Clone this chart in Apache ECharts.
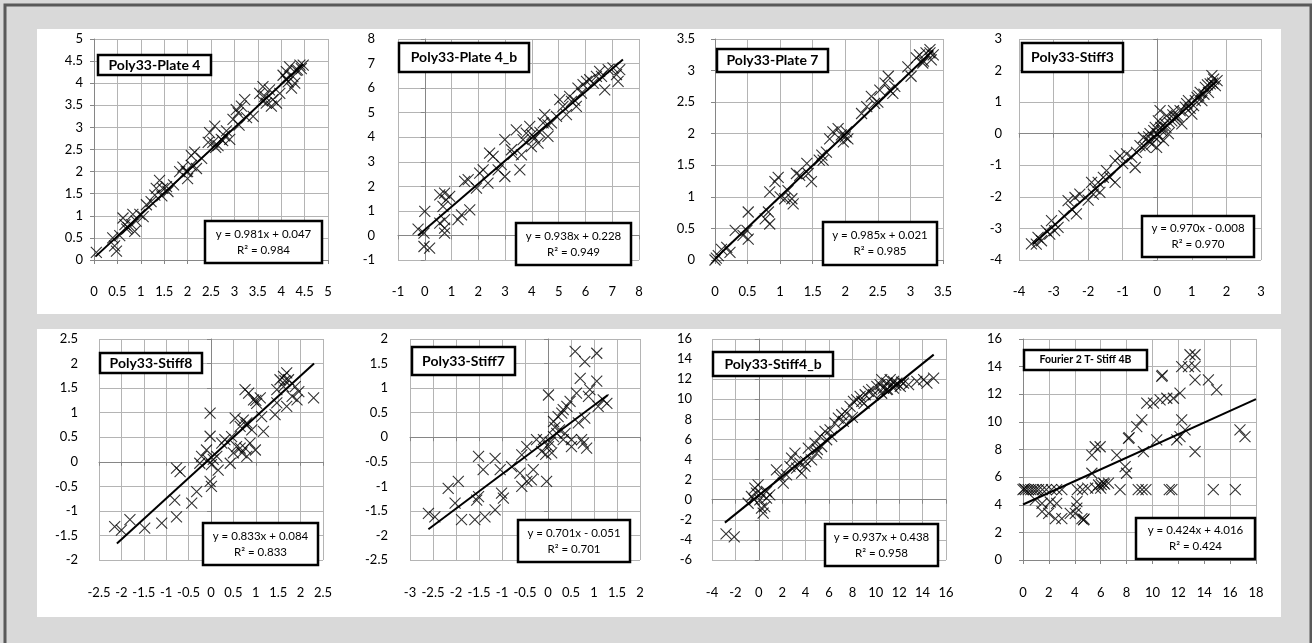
<!DOCTYPE html>
<html>
<head>
<meta charset="utf-8">
<title>Poly33 fits</title>
<script src="https://cdn.jsdelivr.net/npm/echarts@6/dist/echarts.min.js"></script>
<style>
html, body { margin: 0; padding: 0; background: #d9d9d9; }
#main { width: 1312px; height: 643px; }
</style>
</head>
<body>
<div id="main"></div>
<script>
// panel names, in reading order
var names = ['Poly33-Plate 4', 'Poly33-Plate 4_b', 'Poly33-Plate 7', 'Poly33-Stiff3',
             'Poly33-Stiff8', 'Poly33-Stiff7', 'Poly33-Stiff4_b', 'Fourier 2 T- Stiff 4B'];

// axis ticks: [min, max, step]
var xTicks = [[0, 5, 0.5], [-1, 8, 1], [0, 3.5, 0.5], [-4, 3, 1],
              [-2.5, 2.5, 0.5], [-3, 2, 0.5], [-4, 16, 2], [0, 18, 2]];
var yTicks = [[0, 5, 0.5], [-1, 8, 1], [0, 3.5, 0.5], [-4, 3, 1],
              [-2, 2.5, 0.5], [-2.5, 2, 0.5], [-6, 16, 2], [0, 16, 2]];

// trend lines (as printed on the chart) and their x extent
var slopes = [0.981, 0.938, 0.985, 0.970, 0.833, 0.701, 0.937, 0.424];
var intercepts = [0.047, 0.228, 0.021, -0.008, 0.084, -0.051, 0.438, 4.016];
var r2 = [0.984, 0.949, 0.985, 0.970, 0.833, 0.701, 0.958, 0.424];
var trendFrom = [0.03, -0.25, 0, -3.6, -2.1, -2.6, -2.9, 0];
var trendTo = [4.47, 7.4, 3.35, 1.72, 2.3, 1.3, 14.95, 18];

// points [x, y]
var plate4 = [[0.05,0.17],[0.4,0.5],[0.44,0.32],[0.48,0.2],[0.55,0.55],[0.62,0.95],[0.66,0.8],[0.73,0.73],[0.8,0.8],[0.87,0.65],
  [0.9,0.88],[0.98,1.03],[0.83,1.03],[1.05,0.98],[1.12,1.25],[1.22,1.32],[1.3,1.47],[1.33,1.62],[1.4,1.8],[1.47,1.62],
  [1.55,1.66],[1.58,1.55],[1.7,1.7],[1.83,2.0],[1.9,2.1],[1.97,2.0],[2.0,1.84],[2.08,2.36],[2.15,2.44],[2.19,2.07],
  [2.08,2.14],[2.3,2.3],[2.44,2.66],[2.47,2.88],[2.54,2.66],[2.58,3.03],[2.6,2.55],[2.65,2.59],[2.72,2.73],[2.79,2.81],
  [2.83,2.92],[2.9,2.73],[2.97,3.18],[3.04,3.4],[3.08,3.33],[3.15,3.48],[3.22,3.63],[3.26,3.22],[3.4,3.25],[3.54,3.77],
  [3.6,3.6],[3.61,3.92],[3.65,3.7],[3.75,3.85],[3.68,3.55],[3.82,3.63],[3.9,3.55],[3.97,3.77],[3.79,3.48],[4.04,4.18],
  [4.1,4.1],[4.11,4.26],[4.15,4.03],[4.18,4.37],[4.25,4.15],[4.29,4.0],[4.32,4.29],[4.4,4.41],[4.43,4.33],[4.47,4.41],[4.22,3.89],
  [1.45,1.45],[2.0,2.0],[2.75,2.7],[3.1,3.05],[4.35,4.3],[0.7,0.7]];

var plate4b = [[-0.25,0.26],[0,0.98],[-0.03,0.09],[-0.03,-0.45],[0.18,-0.52],[0.74,0.64],[0.74,0.09],[0.74,0.3],[0.56,0.5],
  [0.56,1.65],[0.74,1.72],[0.8,1.45],[0.93,1.59],[0.68,1.18],[1.24,0.64],[1.37,0.84],[1.68,1.04],[1.49,2.2],[1.62,2.27],
  [1.93,1.93],[2.05,2.54],[2.18,2.67],[2.36,2.13],[2.42,3.35],[2.55,3.22],[2.74,2.67],[2.86,2.88],[2.99,3.9],[2.99,2.4],
  [3.24,3.49],[3.42,4.3],[3.55,2.67],[3.61,3.28],[3.67,3.9],[3.79,4.17],[3.92,4.44],[3.98,3.62],[4.11,3.96],[4.23,3.76],
  [4.42,4.58],[4.48,4.92],[4.6,4.03],[4.73,4.58],[4.92,4.85],[5.04,5.53],[5.16,5.26],[5.29,4.92],[5.41,5.66],[5.48,5.46],
  [5.66,5.26],[5.72,6.0],[5.91,6.14],[6.04,6.27],[6.16,6.34],[6.29,6.2],[6.41,6.48],[6.53,6.68],[6.6,6.48],[6.72,5.93],
  [6.85,6.75],[7.03,6.82],[7.16,6.55],[7.28,6.75],[7.22,6.27],[4.3,4.2],[3.3,3.3],[5.6,5.5],[4.0,4.1],[4.6,4.5],[5.85,5.8]];

var plate7 = [[0,0],[0.05,0.07],[0.1,0.17],[0.18,0.2],[0.23,0.12],[0.31,0.47],[0.43,0.39],[0.51,0.76],[0.49,0.47],[0.51,0.33],
  [0.77,0.65],[0.82,0.76],[0.84,0.57],[0.84,1.08],[0.92,1.24],[0.97,1.31],[1.0,1.0],[1.07,0.97],[1.12,1.1],[1.18,0.97],
  [1.2,0.89],[1.25,1.37],[1.3,1.34],[1.41,1.53],[1.48,1.24],[1.43,1.37],[1.64,1.66],[1.66,1.58],[1.71,1.71],[1.76,1.92],
  [1.81,2.03],[1.89,2.08],[1.94,1.98],[2.02,2.03],[2.04,1.92],[1.97,1.87],[2.25,2.32],[2.33,2.43],[2.4,2.59],[2.45,2.48],
  [2.53,2.69],[2.61,2.8],[2.66,2.91],[2.68,2.69],[2.73,2.64],[2.76,2.75],[2.96,3.06],[3.01,2.91],[3.09,3.2],[3.14,3.25],
  [3.19,3.12],[3.24,3.28],[3.3,3.33],[3.32,3.17],[3.35,3.25],[0.02,0.03],[1.6,1.58],[2.0,1.95],[2.5,2.5],[3.3,3.28],[3.2,3.15]];

var stiff3 = [[-3.64,-3.49],[-3.45,-3.28],[-3.35,-3.39],[-3.21,-3.07],[-3.06,-2.75],[-2.97,-3.07],[-2.87,-2.97],[-3.11,-3.18],
  [-2.58,-2.12],[-2.48,-2.39],[-2.38,-2.02],[-2.34,-2.54],[-2.24,-1.91],[-1.9,-1.54],[-1.85,-1.91],[-1.8,-1.75],[-1.71,-1.54],
  [-1.66,-1.86],[-1.56,-1.38],[-1.47,-1.17],[-1.37,-1.38],[-1.22,-1.54],[-1.22,-0.85],[-1.08,-0.7],[-0.89,-0.64],[-0.74,-0.75],
  [-0.64,-1.07],[-0.6,-0.59],[-0.5,-0.38],[-0.4,-0.12],[-0.35,-0.43],[-0.26,-0.22],[-0.21,0.0],[-0.16,-0.33],[-0.06,0.2],
  [-0.06,-0.12],[-0.02,-0.43],[0.03,0.41],[0.08,0.73],[0.13,0.1],[0.18,-0.22],[0.23,0.31],[0.27,0.57],[0.32,0.0],[0.42,0.41],
  [0.47,0.73],[0.56,0.52],[0.66,0.73],[0.71,0.31],[0.81,0.84],[0.9,1.05],[1.0,0.62],[1.05,0.89],[1.15,1.15],[1.24,1.31],
  [1.29,1.05],[1.39,1.47],[1.48,1.31],[1.53,1.58],[1.63,1.73],[1.68,1.52],[1.73,1.68],[1.58,1.84],[0.1,0.2],[0.5,0.45],
  [0.0,0.0],[0.05,-0.1],[0.15,0.25],[0.25,0.2],[0.35,0.35],[0.45,0.6],[0.6,0.55],[0.75,0.7],[0.85,0.95],[0.95,0.8],
  [1.1,1.05],[1.2,1.2],[1.35,1.25],[1.45,1.55],[1.6,1.6],[-0.1,0.1],[-0.25,-0.1],[-1.0,-0.95],[-2.0,-2.1],[-2.7,-2.6],[-3.5,-3.5]];

var stiff8 = [[-2.15,-1.32],[-2.0,-1.39],[-1.81,-1.18],[-1.48,-1.35],[-1.1,-1.25],[-0.77,-1.12],[-0.81,-0.78],[-0.77,-0.13],
  [-0.69,-0.2],[-0.43,-0.84],[-0.32,-0.61],[-0.25,-0.03],[-0.21,0.11],[-0.1,0.24],[-0.06,0.03],[-0.02,0.99],[-0.02,0.52],
  [0.01,-0.06],[-0.02,-0.4],[0.01,-0.5],[0.13,0.11],[0.16,-0.17],[0.24,0.38],[0.31,0.45],[0.43,-0.03],[0.46,0.51],[0.5,0.18],
  [0.54,0.89],[0.57,0.31],[0.65,0.28],[0.69,0.18],[0.65,0.72],[0.72,0.85],[0.8,0.79],[0.76,1.47],[0.84,1.4],[0.87,0.38],
  [0.91,0.65],[0.95,1.26],[1.02,1.19],[0.99,0.24],[1.1,1.3],[1.17,0.62],[1.13,0.92],[1.43,0.96],[1.47,1.47],[1.54,1.67],
  [1.62,1.74],[1.69,1.81],[1.73,1.67],[1.62,1.53],[1.69,1.13],[1.81,1.33],[1.88,1.53],[1.92,1.26],[1.96,1.43],[2.29,1.3],
  [1.47,1.2],[0.8,0.11],[0.76,0.28],[0.78,0.75],[1.0,1.25],[1.65,1.65],[0.05,0.05]];

var stiff7 = [[-2.6,-1.55],[-2.46,-1.62],[-2.17,-1.04],[-1.95,-0.9],[-2.02,-1.34],[-1.88,-1.68],[-1.59,-1.68],[-1.37,-1.62],
  [-1.51,-0.39],[-1.41,-0.66],[-1.51,-1.21],[-1.55,-1.28],[-1.15,-0.43],[-1.04,-0.66],[-1.01,-1.14],[-0.97,-1.24],[-1.15,-1.48],
  [-0.79,-0.6],[-0.57,-0.36],[-0.46,-0.19],[-0.61,-0.73],[-0.57,-1.0],[-0.46,-0.9],[-0.32,-0.66],[-0.36,-0.87],[-0.25,-0.05],
  [-0.14,-0.29],[0.01,0.86],[-0.03,-0.9],[0.01,-0.19],[0.12,0.32],[0.12,0.01],[0.08,-0.32],[0.22,0.42],[0.19,0.08],[0.3,0.49],
  [0.33,-0.05],[0.41,0.63],[0.37,0.08],[0.48,0.73],[0.51,-0.05],[0.59,1.75],[0.62,0.9],[0.66,0.29],[0.7,1.2],[0.73,-0.05],
  [0.8,1.54],[0.8,0.39],[0.84,-0.22],[0.88,0.83],[0.91,0.97],[1.06,1.71],[1.06,1.14],[1.09,0.63],[1.2,0.76],[1.28,0.69],
  [0.77,-0.12],[0.51,-0.19],[-0.1,-0.05],[0.33,0.56],[0.15,0.2],[0.05,-0.1],[-0.05,-0.35],[0.25,0.15]];

var stiff4b = [[-2.8,-3.4],[-2.1,-3.7],[-0.91,-0.35],[-0.63,0.32],[-0.34,1.15],[-0.2,0.65],[-0.06,1.48],[0.09,-0.01],[0.23,-0.84],
  [0.51,-0.68],[0.66,0.15],[0.66,0.82],[0.94,0.49],[0.37,-1.34],[1.51,2.98],[1.8,2.31],[2.09,1.65],[2.37,2.48],[2.66,3.31],
  [2.8,4.14],[3.09,4.64],[3.23,3.14],[3.51,3.64],[3.66,2.64],[3.94,3.31],[4.23,5.14],[4.51,3.97],[4.8,5.63],[4.94,4.64],
  [5.23,6.3],[5.37,5.3],[5.66,6.8],[5.8,5.97],[6.09,6.96],[6.23,6.3],[6.51,7.63],[6.8,8.13],[7.09,8.46],[7.23,7.79],[7.51,8.62],
  [7.8,9.29],[8.09,9.79],[8.37,9.95],[8.66,10.29],[8.8,9.79],[9.09,10.45],[9.37,10.78],[9.66,10.95],[9.8,10.45],[10.09,11.28],
  [10.37,11.45],[10.51,11.95],[10.66,11.12],[10.94,11.61],[11.23,11.95],[11.37,11.45],[11.51,11.78],[11.8,11.61],[12.09,11.28],
  [12.37,11.61],[12.8,11.45],[13.51,11.78],[14.09,11.95],[14.37,11.61],[14.94,12.11],[11.51,11.12],[10.94,10.95],
  [10.5,10.6],[11.0,11.0],[11.7,11.4],[12.2,11.7],[9.0,9.6],[8.0,8.2],[4.0,3.8],[5.0,5.0],[0.2,0.6],[-0.4,0.0]];

var fourier = [[0,5.1],[0.2,5.1],[0.4,5.1],[0.6,5.1],[0.8,5.1],[1.0,5.1],[1.2,5.1],[1.5,5.1],[1.8,5.1],[2.2,5.1],[2.6,5.1],
  [3.0,5.1],[4.2,5.1],[4.6,5.1],[5.0,5.2],[5.6,5.2],[6.0,5.2],[7.5,5.1],[8.9,5.1],[9.2,5.1],[9.5,5.1],[11.3,5.1],[11.5,5.1],
  [14.7,5.1],[16.4,5.1],[0.95,4.35],[1.47,4.1],[1.47,3.5],[1.98,3.38],[2.1,4.2],[2.5,3.0],[2.6,4.1],[3.0,3.0],[3.65,3.38],
  [4.04,3.38],[4.16,3.75],[4.16,4.23],[4.55,3.0],[4.68,2.9],[5.32,6.28],[5.32,7.6],[5.58,8.2],[5.96,8.2],[5.84,5.43],
  [6.22,5.56],[6.6,5.56],[7.25,7.6],[7.89,6.76],[8.0,6.28],[8.15,8.8],[8.79,9.66],[9.18,10.14],[9.3,7.85],[9.56,11.35],
  [10.08,11.35],[10.33,8.7],[10.72,13.29],[10.59,11.59],[11.11,11.71],[11.62,11.71],[12.13,12.08],[12.13,8.94],[12.26,10.14],
  [12.26,14.0],[12.52,9.42],[12.78,14.0],[12.9,14.86],[13.29,14.86],[13.29,13.04],[13.29,7.85],[14.32,13.04],[14.96,12.32],
  [16.76,9.42],[17.15,8.94],[13.29,14.0],[11.88,8.7],[10.76,13.36],[4.72,2.96],[8.2,8.86],[6.05,5.46],[6.3,5.5],[0.1,5.15]];

var panelData = [plate4, plate4b, plate7, stiff3, stiff8, stiff7, stiff4b, fourier];

// layout (pixels): plot areas, y-label gaps, label boxes
var plots = [[94, 39, 234, 221], [398, 39, 241, 221], [715, 39, 228, 221], [1019, 39, 242, 221],
             [99, 339, 224, 221], [410, 339, 230, 221], [712, 339, 234, 221], [1023, 339, 233, 221]];
var yGap = [11, 23, 20, 17, 21, 22, 20, 21];
var nameBox = [[98, 55, 113, 20], [399, 43, 130, 29], [717, 49, 111, 23], [1022, 43, 101, 29],
               [100, 353, 102, 20], [412, 347, 103, 28], [713, 352, 120, 24], [1024, 350, 123, 20]];
var eqBox = [[205, 221, 117, 42], [516, 223, 115, 42], [823, 222, 114, 43], [1142, 216, 112, 41],
             [203, 523, 115, 42], [518, 520, 112, 42], [825, 524, 113, 42], [1136, 518, 119, 41]];

var FONT = 'Lato, "Noto Sans", sans-serif';
var CROSS = 'path://M0,0L10,10M10,0L0,10';

var chart = echarts.init(document.getElementById('main'));

var grids = [], xAxes = [], yAxes = [], series = [];
var graphics = [
    // white strips behind the two rows
    { type: 'rect', z: -10, shape: { x: 37, y: 29, width: 1244, height: 285 }, style: { fill: '#fff' } },
    { type: 'rect', z: -10, shape: { x: 37, y: 329, width: 1244, height: 288 }, style: { fill: '#fff' } },
    // outer frame
    { type: 'rect', z: -9, shape: { x: 5, y: 5, width: 1306, height: 700 }, style: { fill: 'none', stroke: '#595959', lineWidth: 3 } }
];

function labelAxis(i, t, isX) {
    return {
        type: 'value', gridIndex: i, min: t[0], max: t[1], interval: t[2],
        position: isX ? 'bottom' : 'left',
        axisLine: { show: false, onZero: false },
        axisTick: { show: false },
        splitLine: { show: true, lineStyle: { color: '#b4b4b4', width: 1 } },
        axisLabel: {
            show: true, color: '#000', fontFamily: FONT, fontSize: 13,
            margin: isX ? (i < 4 ? 25 : 26) : yGap[i],
            showMinLabel: true, showMaxLabel: true
        }
    };
}

function zeroAxis(i, t, isX) {
    return {
        type: 'value', gridIndex: i, min: t[0], max: t[1], interval: t[2],
        position: isX ? 'bottom' : 'left',
        axisLine: { show: true, onZero: true, lineStyle: { color: '#868686', width: 1 } },
        axisTick: { show: true, length: 4, lineStyle: { color: '#868686' } },
        axisLabel: { show: false },
        splitLine: { show: false }
    };
}

function fmt(v) {
    return (v < 0 ? '- ' : '+ ') + Math.abs(v).toFixed(3);
}

for (var i = 0; i < 8; i++) {
    var p = plots[i];
    grids.push({ left: p[0], top: p[1], width: p[2], height: p[3], containLabel: false, outerBoundsMode: 'none' });
    xAxes.push(labelAxis(i, xTicks[i], true));
    xAxes.push(zeroAxis(i, xTicks[i], true));
    yAxes.push(labelAxis(i, yTicks[i], false));
    yAxes.push(zeroAxis(i, yTicks[i], false));

    series.push({
        type: 'scatter', xAxisIndex: 2 * i, yAxisIndex: 2 * i,
        data: panelData[i], symbol: CROSS, symbolSize: 11,
        itemStyle: { color: 'transparent', borderColor: '#000', borderWidth: 1.1 },
        silent: true, z: 2
    });
    var m = slopes[i], b = intercepts[i];
    series.push({
        type: 'line', xAxisIndex: 2 * i, yAxisIndex: 2 * i,
        data: [[trendFrom[i], m * trendFrom[i] + b], [trendTo[i], m * trendTo[i] + b]],
        symbol: 'none', showSymbol: false,
        lineStyle: { color: '#000', width: 2 },
        silent: true, z: 3
    });

    var nb = nameBox[i];
    graphics.push({ type: 'rect', z: 100, shape: { x: nb[0], y: nb[1], width: nb[2], height: nb[3] },
        style: { fill: '#fff', stroke: '#000', lineWidth: 2.5 } });
    graphics.push({ type: 'text', z: 101, x: nb[0] + nb[2] / 2, y: nb[1] + nb[3] / 2,
        style: { text: names[i], fill: '#000', fontFamily: FONT, fontWeight: 'bold',
                 fontSize: i === 7 ? 10.5 : 14, align: 'center', verticalAlign: 'middle' } });

    var eb = eqBox[i];
    graphics.push({ type: 'rect', z: 100, shape: { x: eb[0], y: eb[1], width: eb[2], height: eb[3] },
        style: { fill: '#fff', stroke: '#000', lineWidth: 2.5 } });
    graphics.push({ type: 'text', z: 101, x: eb[0] + eb[2] / 2, y: eb[1] + eb[3] / 2,
        style: { text: 'y = ' + m.toFixed(3) + 'x ' + fmt(b) + '\nR\u00b2 = ' + r2[i].toFixed(3),
                 fill: '#000', fontFamily: FONT, fontSize: 11.5, lineHeight: 16,
                 align: 'center', verticalAlign: 'middle' } });
}

chart.setOption({
    backgroundColor: '#d9d9d9',
    animation: false,
    grid: grids,
    xAxis: xAxes,
    yAxis: yAxes,
    series: series,
    graphic: { elements: graphics }
});
</script>
</body>
</html>
